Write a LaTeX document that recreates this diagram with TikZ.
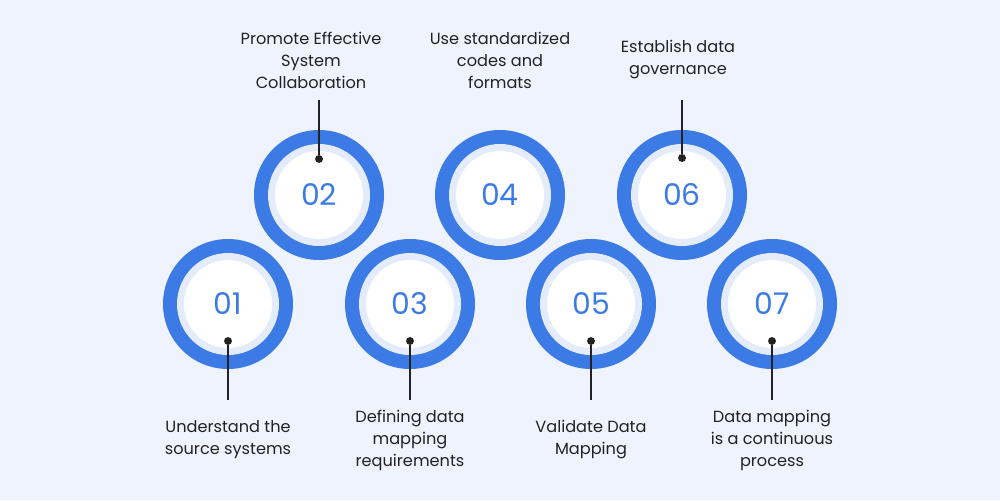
\documentclass[tikz,border=0pt]{standalone}
\usepackage{fontspec}
\setmainfont{Poppins}
\begin{document}
\definecolor{bg}{HTML}{EEF3FD}
\definecolor{ring}{HTML}{3C7BE6}
\definecolor{lite}{HTML}{E4ECFB}
\definecolor{txt}{HTML}{222222}
\begin{tikzpicture}[x=0.02cm,y=-0.02cm,
  outer/.style={circle,fill=ring,minimum size=130*0.02cm,inner sep=0},
  mid/.style={circle,fill=lite,minimum size=102*0.02cm,inner sep=0},
  inner/.style={circle,fill=white,minimum size=88*0.02cm,inner sep=0,text=ring,font=\fontsize{17}{17}\selectfont},
  lbl/.style={align=center,text=txt,font=\fontsize{9.2}{12.5}\selectfont},
  dot/.style={circle,fill=txt,inner sep=0,minimum size=4.5pt},
  con/.style={draw=txt,line width=0.8pt}]
\fill[bg] (0,0) rectangle (1000,500);
\foreach \n/\x/\y in {01/228/304,02/319/195,03/410/304,04/500/195,05/591/304,06/682/195,07/772/304}{
  \node[outer] (o\n) at (\x,\y) {};
  \node[mid] (m\n) at (\x,\y) {};
  \node[inner] (c\n) at (\x,\y) {\n};
}
% top connectors
\node[dot] (d02) at (319,159) {}; \coordinate (e02) at (319,100);
\draw[con] (d02) -- (e02);
\node[dot] (d06) at (682,158) {}; \coordinate (e06) at (682,100);
\draw[con] (d06) -- (e06);
% bottom connectors
\foreach \n/\x in {01/228,03/410,05/591,07/772}{
  \node[dot] (d\n) at (\x,341) {}; \coordinate (e\n) at (\x,400);
  \draw[con] (d\n) -- (e\n);
}
\node[lbl] (t02) at (311,60) {Promote Effective\\System\\Collaboration};
\node[lbl] (t04) at (500,60) {Use standardized\\codes and\\formats};
\node[lbl] (t06) at (678,60) {Establish data\\governance};
\node[lbl] (t01) at (228,440) {Understand the\\source systems};
\node[lbl] (t03) at (410,440) {Defining data\\mapping\\requirements};
\node[lbl] (t05) at (591,440) {Validate Data\\Mapping};
\node[lbl] (t07) at (772,440) {Data mapping\\is a continuous\\process};
\end{tikzpicture}
\end{document}
